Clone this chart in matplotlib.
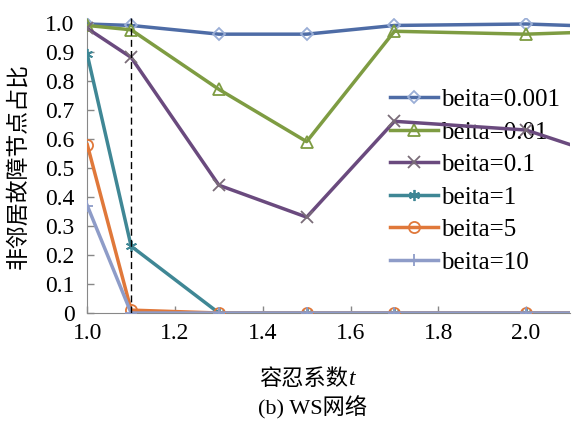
import matplotlib
matplotlib.use('Agg')
import matplotlib.pyplot as plt
from matplotlib import rcParams

rcParams['font.family'] = ['Liberation Serif', 'Noto Sans CJK SC']

t = [1.0, 1.1, 1.3, 1.5, 1.7, 2.0, 2.1]
b0001 = [0.995, 0.99, 0.96, 0.96, 0.99, 0.995, 0.99]
b001 = [0.99, 0.975, 0.77, 0.59, 0.97, 0.96, 0.965]
b01 = [0.98, 0.88, 0.44, 0.33, 0.66, 0.63, 0.58]
b1 = [0.89, 0.23, 0, 0, 0, 0, 0]
b5 = [0.58, 0.01, 0, 0, 0, 0, 0]
b10 = [0.37, 0.0, 0, 0, 0, 0, 0]
labels = ['beita=0.001', 'beita=0.01', 'beita=0.1', 'beita=1', 'beita=5', 'beita=10']
series = [b0001, b001, b01, b1, b5, b10]
colors = ['#4e6ca6', '#7e9c42', '#6a4a7e', '#3f8795', '#e0783a', '#8e9cc8']
edges = ['#9aaed6', '#7e9c42', '#7a6c78', '#3f8795', '#e0783a', '#8e9cc8']
markers = ['D', '^', 'x', (6, 2, 0), 'o', '+']
msizes = [6, 8, 8, 8, 8, 9]

fig = plt.figure(figsize=(5.74, 4.23), dpi=100)
ax = fig.add_axes([0.152, 0.26, 0.841, 0.697])

for y, lab, c, ec, m, ms in zip(series, labels, colors, edges, markers, msizes):
    ax.plot(t, y, color=c, lw=2.5, marker=m, markersize=ms, markerfacecolor='none',
            markeredgecolor=ec, markeredgewidth=1.3, markevery=list(range(6)),
            label=lab, zorder=3)

ax.axvline(1.1, color='black', ls=(0, (5, 3)), lw=1, zorder=4)

ax.set_xlim(1.0, 2.1)
ax.set_ylim(0, 1.015)
ax.set_xticks([1.0, 1.2, 1.4, 1.6, 1.8, 2.0])
ax.set_xticklabels(['1.0', '1.2', '1.4', '1.6', '1.8', '2.0'])
ax.set_yticks([0, 0.1, 0.2, 0.3, 0.4, 0.5, 0.6, 0.7, 0.8, 0.9, 1.0])
ax.set_yticklabels(['0', '0.1', '0.2', '0.3', '0.4', '0.5', '0.6', '0.7', '0.8', '0.9', '1.0'])
ax.tick_params(direction='in', length=5, color='#888888', labelsize=17, width=1)
ax.tick_params(axis='x', pad=7)
ax.tick_params(axis='y', pad=9)
ax.spines['top'].set_visible(False)
ax.spines['right'].set_visible(False)
ax.spines['left'].set_color('#888888')
ax.spines['bottom'].set_color('#888888')

ax.set_ylabel('非邻居故障节点占比', fontsize=16.5, family=['Noto Sans CJK SC'])
ax.yaxis.set_label_coords(-0.12, 0.5)

# x label: Chinese text followed by an italic t
fig.text(0.607, 0.106, '容忍系数', fontsize=16, ha='right', va='center', family=['Noto Sans CJK SC'])
fig.text(0.608, 0.104, 't', fontsize=17, ha='left', va='center', style='italic')
fig.text(0.545, 0.035, '(b) WS网络', fontsize=16, ha='center', va='center')

leg = ax.legend(loc='upper left', bbox_to_anchor=(0.607, 0.795), frameon=False, fontsize=18,
                handlelength=1.9, handletextpad=0.12, labelspacing=0.4, borderaxespad=0)
leg.set_zorder(1)

fig.savefig('out.png', dpi=100)
